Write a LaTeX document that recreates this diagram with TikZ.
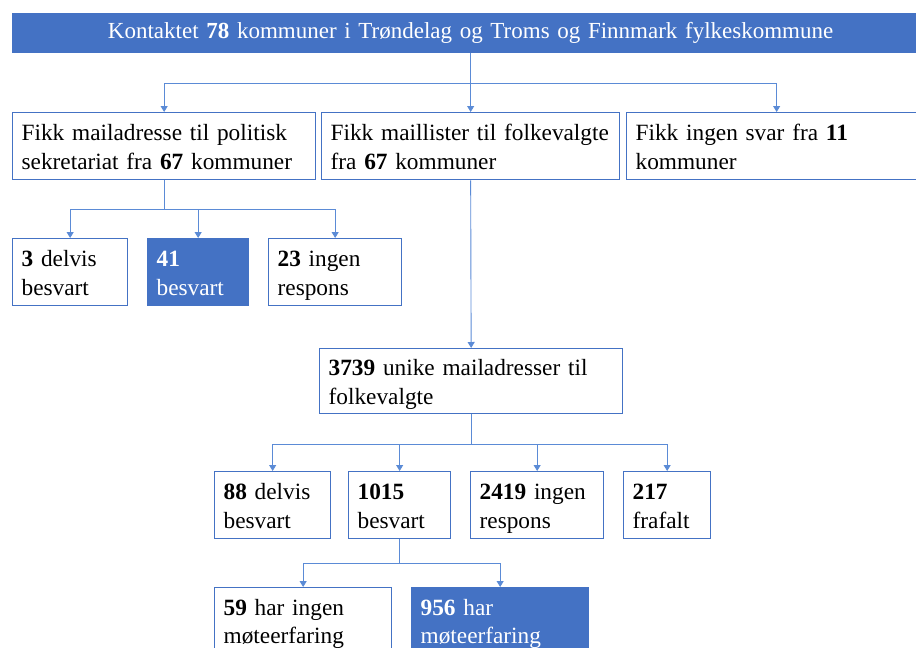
\documentclass[tikz,border=0pt]{standalone}
\usepackage{fontspec}
\setmainfont{Liberation Serif}
\usetikzlibrary{arrows.meta}
\definecolor{mblue}{HTML}{4472C4}
\definecolor{lblue}{HTML}{5B8BD6}
\newcommand{\oneline}[1]{\mbox{\rule[-5.5pt]{0pt}{28.5pt}#1}}
\begin{document}
\begin{tikzpicture}[x=1pt,y=-1pt,
  box/.style={draw=mblue, line width=1.3pt, fill=white, anchor=north west,
    inner xsep=9pt, inner ysep=0pt, align=left, text=black,
    font=\fontsize{23.3}{28.5}\selectfont},
  fbox/.style={box, fill=mblue, text=white},
  conn/.style={draw=lblue, line width=0.9pt},
  arr/.style={conn, -{Triangle[width=7pt,length=6pt]}}]
\useasboundingbox (0,0) rectangle (916,648);

\node[fbox, align=center, minimum width=916, minimum height=39, text width=898,
  font=\fontsize{23}{26}\selectfont] (top) at (12,13)
  {Kontaktet {\bfseries 78} kommuner i Trøndelag og Troms og Finnmark fylkeskommune};

\node[box, minimum width=303, minimum height=67, text width=285] (A) at (12,112)
  {\oneline{Fikk mailadresse til politisk}\\\oneline{sekretariat fra {\bfseries 67} kommuner}};
\node[box, minimum width=298, minimum height=67, text width=280] (B) at (321,112)
  {\oneline{Fikk maillister til folkevalgte}\\\oneline{fra {\bfseries 67} kommuner}};
\node[box, minimum width=300, minimum height=67, text width=282] (C) at (626,112)
  {\oneline{Fikk ingen svar fra {\bfseries 11}}\\\oneline{kommuner}};

\node[box, minimum width=115, minimum height=67, text width=97] (a1) at (12,238)
  {\oneline{{\bfseries 3} delvis}\\\oneline{besvart}};
\node[fbox, minimum width=101, minimum height=67, text width=83] (a2) at (147,238)
  {\oneline{{\bfseries 41}}\\\oneline{besvart}};
\node[box, minimum width=133, minimum height=67, text width=115] (a3) at (268,238)
  {\oneline{{\bfseries 23} ingen}\\\oneline{respons}};

\node[box, minimum width=303, minimum height=65, text width=285] (D) at (319,348)
  {\oneline{{\bfseries 3739} unike mailadresser til}\\\oneline{folkevalgte}};

\node[box, minimum width=116, minimum height=67, text width=98] (b1) at (214,471)
  {\oneline{{\bfseries 88} delvis}\\\oneline{besvart}};
\node[box, minimum width=102, minimum height=67, text width=84] (b2) at (348,471)
  {\oneline{{\bfseries 1015}}\\\oneline{besvart}};
\node[box, minimum width=133, minimum height=67, text width=115] (b3) at (470,471)
  {\oneline{{\bfseries 2419} ingen}\\\oneline{respons}};
\node[box, minimum width=87, minimum height=67, text width=69] (b4) at (623,471)
  {\oneline{{\bfseries 217}}\\\oneline{frafalt}};

\node[box, minimum width=177, minimum height=66, text width=159] (c1) at (214,587)
  {\oneline{{\bfseries 59} har ingen}\\\oneline{møteerfaring}};
\node[fbox, minimum width=177, minimum height=66, text width=159] (c2) at (411,587)
  {\oneline{{\bfseries 956} har}\\\oneline{møteerfaring}};

% connectors
\draw[arr] (top.south) -- (B.north);
\draw[arr] (top.south) ++(0,30) -| (A.north);
\draw[arr] (top.south) ++(0,30) -| (C.north);

\draw[arr] (A.south) -- ++(0,29) -| (a1.north);
\draw[arr] (A.south) -- ++(0,29) -| (a2.north);
\draw[arr] (A.south) -- ++(0,29) -| (a3.north);

\draw[arr] (B.south) -- (D.north);

\draw[arr] (D.south) -- ++(0,30) -| (b1.north);
\draw[arr] (D.south) -- ++(0,30) -| (b2.north);
\draw[arr] (D.south) -- ++(0,30) -| (b3.north);
\draw[arr] (D.south) -- ++(0,30) -| (b4.north);

\draw[arr] (b2.south) -- ++(0,24) -| (c1.north);
\draw[arr] (b2.south) -- ++(0,24) -| (c2.north);
\end{tikzpicture}
\end{document}
